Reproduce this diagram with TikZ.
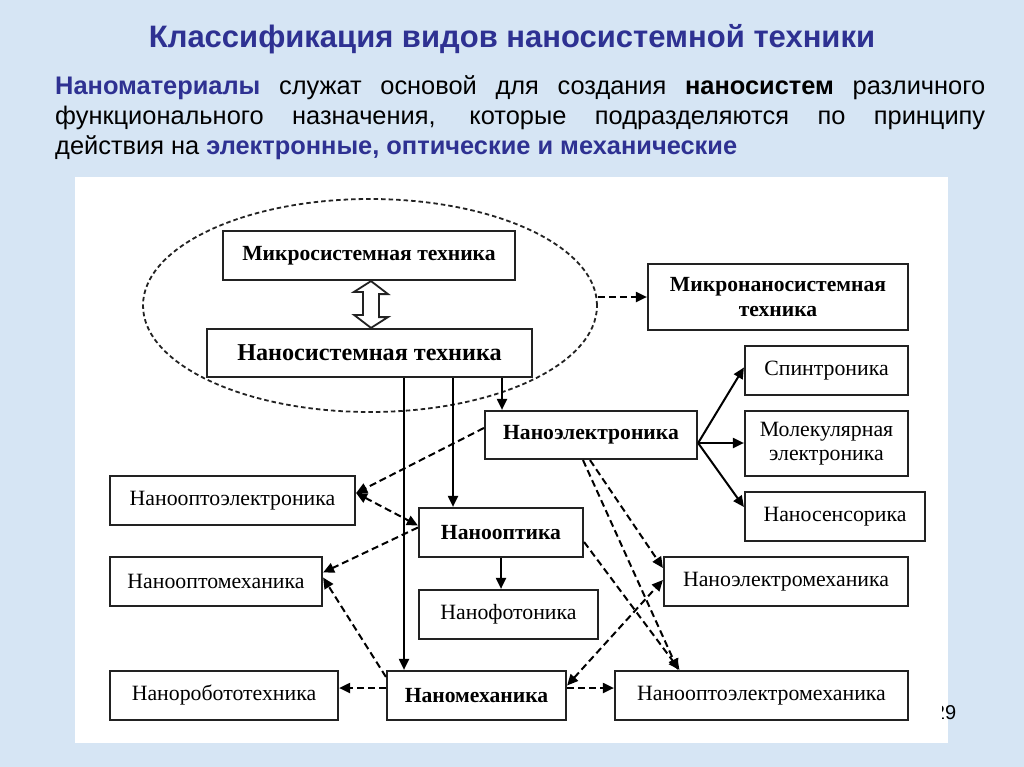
\documentclass[tikz,border=0pt]{standalone}
\usepackage{fontspec}
\setmainfont{Liberation Sans}
\newfontfamily\tnr{Liberation Serif}
\usetikzlibrary{arrows.meta,shapes.geometric,calc}
\definecolor{bgblue}{HTML}{D6E5F4}
\definecolor{navy}{HTML}{2E3192}
\definecolor{boxc}{HTML}{222222}
\begin{document}
\begin{tikzpicture}[x=1pt,y=-1pt,
  box/.style={draw=boxc, line width=2.2pt, fill=white, inner sep=0pt, align=center, text=black,
    font=\tnr\fontsize{21.8}{24.5}\selectfont},
  bbox/.style={box, font=\tnr\bfseries\fontsize{21.6}{24.5}\selectfont},
  arr/.style={draw=black, line width=2pt, -{Triangle[length=11pt,width=10pt]}},
  darr/.style={arr, dash pattern=on 7pt off 4pt},
  ddarr/.style={darr, {Triangle[length=11pt,width=10pt]}-{Triangle[length=11pt,width=10pt]}},
  bodytxt/.style={anchor=west, inner sep=0pt, font=\fontsize{25.4}{29}\selectfont}]
\useasboundingbox (0,0) rectangle (1024,767);
\fill[bgblue] (0,0) rectangle (1024,767);
% header
\node[font=\bfseries\fontsize{31}{34}\selectfont, text=navy] (title) at (512,39) {Классификация видов наносистемной техники};
\node[bodytxt] (l1) at (55,88) {\makebox[930pt][s]{\textcolor{navy}{\bfseries Наноматериалы} служат основой для создания \textbf{наносистем} различного}};
\node[bodytxt] (l2) at (55,118) {\makebox[930pt][s]{функционального назначения, которые подразделяются по принципу}};
\node[bodytxt] (l3) at (55,148) {действия на \textcolor{navy}{\bfseries электронные, оптические и механические}};
% panel and page number
\fill[white] (75,177) rectangle (948,743);
\node[font=\fontsize{20}{24}\selectfont, inner sep=0pt] (pg) at (945,713) {29};
\fill[white] (75,177) rectangle (942,743);
% ellipse
\node[ellipse, draw=boxc, minimum width=454pt, minimum height=213pt, inner sep=0pt,
  dash pattern=on 4.5pt off 3pt, line width=1.8pt] (ell) at (370,305.5) {};
% boxes
\node[bbox, minimum width=292pt, minimum height=49pt] (mst) at (369,255.5) {Микросистемная техника};
\node[bbox, minimum width=325pt, minimum height=48pt, font=\tnr\bfseries\fontsize{24.2}{28}\selectfont] (nst) at (369.5,353) {Наносистемная техника};
\node[bbox, minimum width=260pt, minimum height=66pt] (mnst) at (778,297) {Микронаносистемная\\техника};
\node[box, minimum width=163pt, minimum height=49pt] (spin) at (826.5,370.5) {Спинтроника};
\node[box, minimum width=163pt, minimum height=65pt] (mol) at (826.5,443.5) {Молекулярная\\электроника};
\node[box, minimum width=180pt, minimum height=49pt] (sens) at (835,516.5) {Наносенсорика};
\node[bbox, minimum width=212pt, minimum height=48pt] (nel) at (591,435) {Наноэлектроника};
\node[box, minimum width=245pt, minimum height=49pt] (noel) at (232.5,500.5) {Нанооптоэлектроника};
\node[bbox, minimum width=164pt, minimum height=49pt] (nopt) at (501,532.5) {Нанооптика};
\node[box, minimum width=212pt, minimum height=49pt] (nom) at (216,581.5) {Нанооптомеханика};
\node[box, minimum width=179pt, minimum height=49pt] (nph) at (508.5,614.5) {Нанофотоника};
\node[box, minimum width=228pt, minimum height=49pt] (nrob) at (224,695.5) {Наноробототехника};
\node[bbox, minimum width=179pt, minimum height=49pt] (nmech) at (476.5,695.5) {Наномеханика};
\node[box, minimum width=244pt, minimum height=49pt] (nem) at (786,581.5) {Наноэлектромеханика};
\node[box, minimum width=293pt, minimum height=49pt] (noem) at (761.5,695.5) {Нанооптоэлектромеханика};
% hollow double arrow
\coordinate (dt) at ([xshift=2pt]mst.south);
\coordinate (db) at ([xshift=1.5pt]nst.north);
\draw[draw=boxc, line width=1.8pt, fill=white, line join=miter]
  (dt) -- ++(17,13) -- ++(-9,0) -- ++(0,23) -- ++(9,0) -- (db)
  -- ++(-17,-13) -- ++(9,0) -- ++(0,-23) -- ++(-9,0) -- cycle;
% solid arrows
\coordinate (s1) at ([xshift=34.5pt]nst.south);
\coordinate (s2) at ([xshift=83.5pt]nst.south);
\coordinate (s3) at ([xshift=132.5pt]nst.south);
\draw[arr] (s1) -- (s1 |- nmech.north);
\draw[arr] (s2) -- (s2 |- nopt.north);
\draw[arr] (s3) -- (s3 |- nel.north);
\draw[arr] (nopt.south) -- (nopt.south |- nph.north);
\coordinate (fan) at ([yshift=-8pt]nel.east);
\draw[arr] (fan) -- ([yshift=3pt]spin.west);
\draw[arr] (fan) -- (fan -| mol.west);
\draw[arr] (fan) -- ([yshift=9.5pt]sens.west);
% dashed arrows
\draw[darr] (ell.east |- mnst.west) -- (mnst.west);
\coordinate (noelE) at ([yshift=7.5pt]noel.east);
\draw[darr] ([yshift=7pt]nel.west) -- (noelE);
\draw[ddarr] (noelE) -- ([yshift=7pt]nopt.west);
\draw[darr] ([yshift=5pt]nopt.west) -- ([yshift=9pt]nom.east);
\draw[darr] ([yshift=-7pt]nmech.north west) -- ([yshift=4pt]nom.east);
\draw[darr] ([yshift=7.5pt]nmech.west) -- ([yshift=7.5pt]nrob.east);
\draw[darr] ([yshift=7.5pt]nmech.east) -- ([yshift=7.5pt]noem.west);
\draw[ddarr] ([yshift=10pt]nmech.east) -- ([yshift=1.5pt]nem.west);
\draw[darr] ([xshift=-1pt]nel.south) -- ([yshift=13.5pt]nem.west);
\draw[darr] ([xshift=-8pt]nel.south) -- ([xshift=-83.5pt]noem.north);
\draw[darr] ([yshift=-9.5pt]nopt.east) -- ([xshift=-82pt]noem.north);
\end{tikzpicture}
\end{document}
